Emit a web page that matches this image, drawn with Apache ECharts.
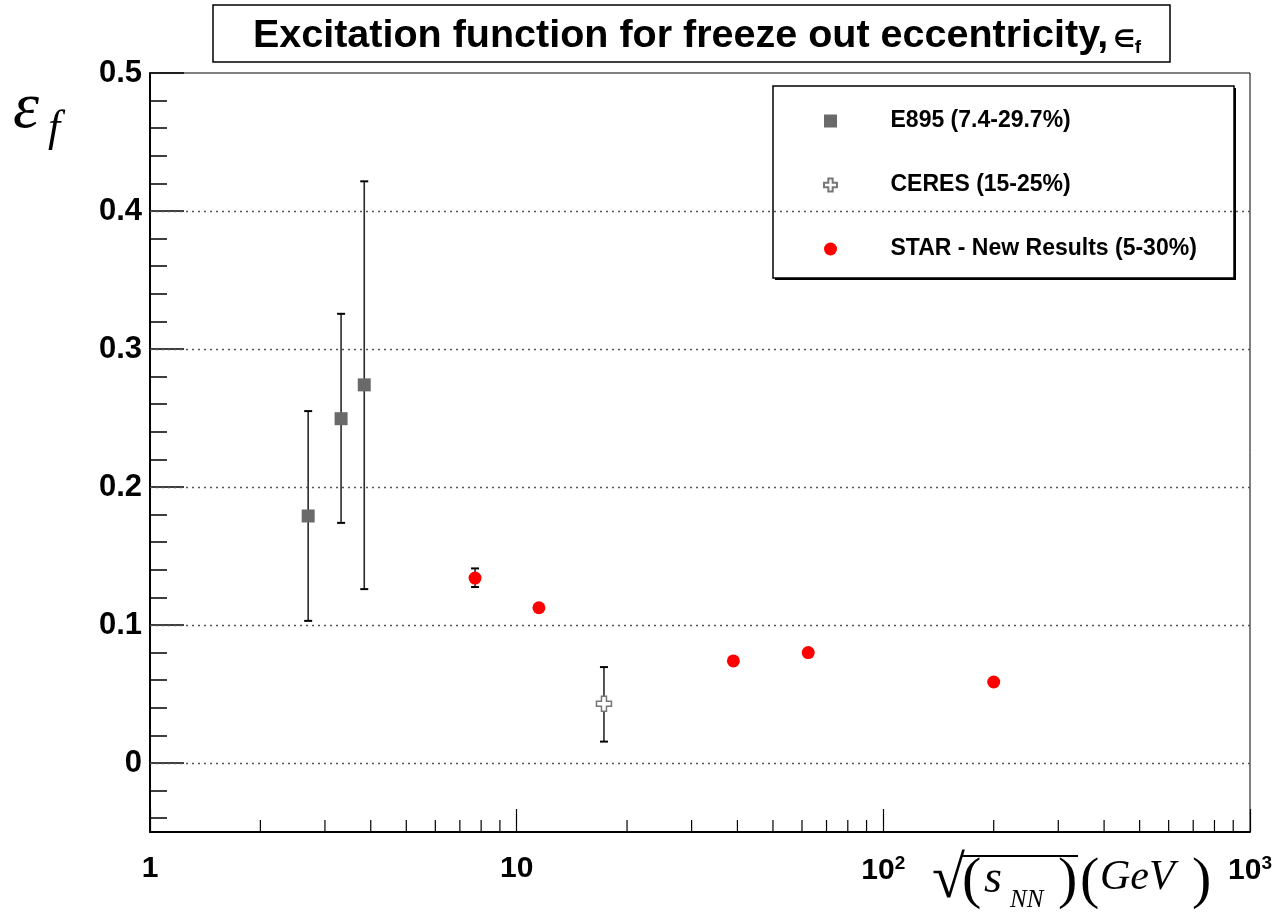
<!DOCTYPE html>
<html><head><meta charset="utf-8">
<script src="https://cdn.jsdelivr.net/npm/echarts@6/dist/echarts.min.js"></script>
<style>html,body{margin:0;padding:0;background:#fff}#c{width:1272px;height:917px}</style>
</head><body><div id="c"></div>
<script>
// ---- data ----
const e895Name = 'E895 (7.4-29.7%)';
const e895X  = [2.7, 3.32, 3.84];
const e895Y  = [0.179, 0.2495, 0.274];
const e895Lo = [0.103, 0.174, 0.126];
const e895Hi = [0.255, 0.3255, 0.4215];

const ceresName = 'CERES (15-25%)';
const ceresX  = [17.3];
const ceresY  = [0.043];
const ceresLo = [0.0155];
const ceresHi = [0.0695];

const starName = 'STAR - New Results (5-30%)';
const starX  = [7.7, 11.5, 39, 62.4, 200];
const starY  = [0.134, 0.1125, 0.074, 0.080, 0.0587];
const starLo = [0.1275, 0.1105, 0.0725, 0.0785, 0.0575];
const starHi = [0.1410, 0.1145, 0.0755, 0.0815, 0.0600];

const yMajorTicks = [0, 0.1, 0.2, 0.3, 0.4, 0.5];
const yGridLines  = [0, 0.1, 0.2, 0.3, 0.4];
const xMajorLabels = {1: '1', 10: '10', 100: '{b|10}{s|2}', 1000: '{b|10}{s|3}'};
const Y_MIN = -0.05, Y_MAX = 0.5, X_MIN = 1, X_MAX = 1000;

// minor tick positions (axis decoration)
const yMinorTicks = [];
for (let i = -2; i <= 24; i++) { if (i % 5 !== 0) yMinorTicks.push(+(i * 0.02).toFixed(2)); }
const xMinorTicks = [];
for (let d = 1; d <= 100; d *= 10) for (let k = 2; k <= 9; k++) xMinorTicks.push(k * d);

const FONT = 'Liberation Sans, Arial, Helvetica, sans-serif';
const SERIF = 'Liberation Serif, Times New Roman, serif';

function pts(xs, ys) { return xs.map((x, i) => [x, ys[i]]); }
function errs(xs, lo, hi) { return xs.map((x, i) => [x, lo[i], hi[i]]); }

function errRender(params, api) {
  const x = api.value(0), lo = api.value(1), hi = api.value(2);
  const a = api.coord([x, lo]), b = api.coord([x, hi]);
  const cap = 4;
  const st = {stroke: '#2a2a2a', lineWidth: 1.6};
  return {type: 'group', children: [
    {type: 'line', shape: {x1: a[0], y1: a[1], x2: b[0], y2: b[1]}, style: st},
    {type: 'line', shape: {x1: a[0]-cap, y1: a[1], x2: a[0]+cap, y2: a[1]}, style: {stroke:'#000', lineWidth: 2}},
    {type: 'line', shape: {x1: b[0]-cap, y1: b[1], x2: b[0]+cap, y2: b[1]}, style: {stroke:'#000', lineWidth: 2}}
  ]};
}
function xMinorRender(params, api) {
  const p = api.coord([api.value(0), Y_MIN]);
  return {type: 'line', shape: {x1: p[0], y1: p[1], x2: p[0], y2: p[1] - 12}, style: {stroke: '#000', lineWidth: 1.2}};
}

const plusPath = 'path://M4,0 H8 V4 H12 V8 H8 V12 H4 V8 H0 V4 H4 Z';
const squarePath = 'path://M0,0 H10 V10 H0 Z';

const chart = echarts.init(document.getElementById('c'), null, {renderer: 'canvas'});
chart.setOption({
  backgroundColor: '#fff',
  animation: false,
  title: {
    text: '{a|Excitation function for freeze out eccentricity,} {b|∈}{c|f}',
    left: 692, top: 11, textAlign: 'center',
    textStyle: {
      rich: {
        a: {fontFamily: FONT, fontWeight: 'bold', fontSize: 39.5, color: '#000'},
        b: {fontFamily: 'DejaVu Sans, sans-serif', fontSize: 24, color: '#000', padding: [8, 0, 0, 0]},
        c: {fontFamily: FONT, fontWeight: 'bold', fontSize: 19, color: '#000', padding: [22, 0, 0, 0]}
      }
    }
  },
  grid: {left: 150, right: 22, top: 73, bottom: 85, show: true, borderColor: '#000', borderWidth: 1,
    backgroundColor: '#fff', containLabel: false, outerBoundsMode: 'none'},
  legend: {
    left: 818, top: 104, orient: 'vertical',
    itemWidth: 110, itemHeight: 13, itemGap: 40,
    data: [e895Name, ceresName, starName],
    textStyle: {fontFamily: FONT, fontWeight: 'bold', fontSize: 23, color: '#000', lineHeight: 24}
  },
  xAxis: {
    type: 'log', logBase: 10, min: X_MIN, max: X_MAX,
    axisLine: {onZero: false, lineStyle: {color: '#000', width: 2}},
    axisTick: {inside: true, length: 23, lineStyle: {color: '#000', width: 1.2}},
    axisLabel: {
      margin: 22, color: '#000', fontFamily: FONT, fontWeight: 'bold', fontSize: 30,
      formatter: v => xMajorLabels[Math.round(v)] !== undefined ? xMajorLabels[Math.round(v)] : '',
      rich: {
        b: {fontFamily: FONT, fontWeight: 'bold', fontSize: 30, color: '#000'},
        s: {fontFamily: FONT, fontWeight: 'bold', fontSize: 19, color: '#000', padding: [0, 0, 14, 0]}
      }
    },
    splitLine: {show: false}
  },
  yAxis: [{
    type: 'value', min: Y_MIN, max: Y_MAX,
    axisLine: {show: true, onZero: false, lineStyle: {color: '#000', width: 2}},
    axisTick: {show: true, inside: true, length: 34, customValues: yMajorTicks, lineStyle: {color: '#000', width: 1.5}},
    axisLabel: {
      customValues: yMajorTicks, margin: 8, color: '#000', fontFamily: FONT, fontWeight: 'bold', fontSize: 31,
      formatter: v => (Math.abs(v) < 1e-9 ? '0' : v.toFixed(1))
    },
    splitLine: {show: false}
  }, {
    type: 'value', min: Y_MIN, max: Y_MAX, position: 'left',
    axisLine: {show: false, onZero: false},
    axisTick: {show: true, inside: true, length: 17, customValues: yMinorTicks, lineStyle: {color: '#000', width: 1.5}},
    axisLabel: {show: false},
    splitLine: {show: false}
  }],
  graphic: [
    {type: 'rect', z: 100, shape: {x: 213, y: 5, width: 957, height: 57}, style: {fill: 'transparent', stroke: '#000', lineWidth: 1.5}, silent: true},
    {type: 'rect', z: 0, shape: {x: 775, y: 88, width: 461, height: 192}, style: {fill: '#000'}, silent: true},
    {type: 'rect', z: 0, shape: {x: 773, y: 86, width: 461, height: 192}, style: {fill: '#fff', stroke: '#000', lineWidth: 1.5}, silent: true},
    // y axis title
    {type: 'text', left: 13, top: 77, style: {text: 'ε', font: 'italic 66px ' + SERIF, fill: '#000'}},
    {type: 'text', left: 48, top: 107, style: {text: 'f', font: 'italic 44px ' + SERIF, fill: '#000'}},
    // x axis title
    {type: 'text', left: 932, top: 851, style: {text: '√', font: '60px ' + SERIF, fill: '#000'}},
    {type: 'line', shape: {x1: 961, y1: 856, x2: 1078, y2: 856}, style: {stroke: '#000', lineWidth: 2}},
    {type: 'text', left: 962, top: 853, style: {text: '(', font: '58px ' + SERIF, fill: '#000'}},
    {type: 'text', left: 984, top: 857, style: {text: 's', font: 'italic 46px ' + SERIF, fill: '#000'}},
    {type: 'text', left: 1010, top: 888, style: {text: 'NN', font: 'italic 25px ' + SERIF, fill: '#000'}},
    {type: 'text', left: 1058, top: 853, style: {text: ')', font: '58px ' + SERIF, fill: '#000'}},
    {type: 'text', left: 1080, top: 853, style: {text: '(', font: '58px ' + SERIF, fill: '#000'}},
    {type: 'text', left: 1100, top: 857, style: {text: 'GeV', font: 'italic 42px ' + SERIF, fill: '#000'}},
    {type: 'text', left: 1192, top: 853, style: {text: ')', font: '58px ' + SERIF, fill: '#000'}}
  ],
  series: [
    {type: 'custom', name: 'xminor', renderItem: xMinorRender, data: xMinorTicks.map(v => [v]), z: 1, silent: true, clip: false},
    {type: 'custom', name: 'e895err', renderItem: errRender, data: errs(e895X, e895Lo, e895Hi), z: 2, silent: true,
      markLine: {silent: true, symbol: 'none', label: {show: false},
        lineStyle: {color: '#555', type: [2, 4], width: 1.3},
        data: yGridLines.map(v => ({yAxis: v}))}},
    {type: 'custom', name: 'ceresErr', renderItem: errRender, data: errs(ceresX, ceresLo, ceresHi), z: 2, silent: true},
    {type: 'custom', name: 'starErr', renderItem: errRender, data: errs(starX, starLo, starHi), z: 2, silent: true},
    {type: 'scatter', name: e895Name, data: pts(e895X, e895Y), symbol: squarePath, symbolSize: 13, z: 3,
      itemStyle: {color: '#6a6a6a', opacity: 1}},
    {type: 'scatter', name: ceresName, data: pts(ceresX, ceresY), symbol: plusPath, symbolSize: 15, z: 3,
      itemStyle: {color: '#fff', borderColor: '#777', borderWidth: 1.5, opacity: 1}},
    {type: 'scatter', name: starName, data: pts(starX, starY), symbol: 'circle', symbolSize: 13, z: 3,
      itemStyle: {color: '#ff0000', opacity: 1}}
  ]
});
</script></body></html>
